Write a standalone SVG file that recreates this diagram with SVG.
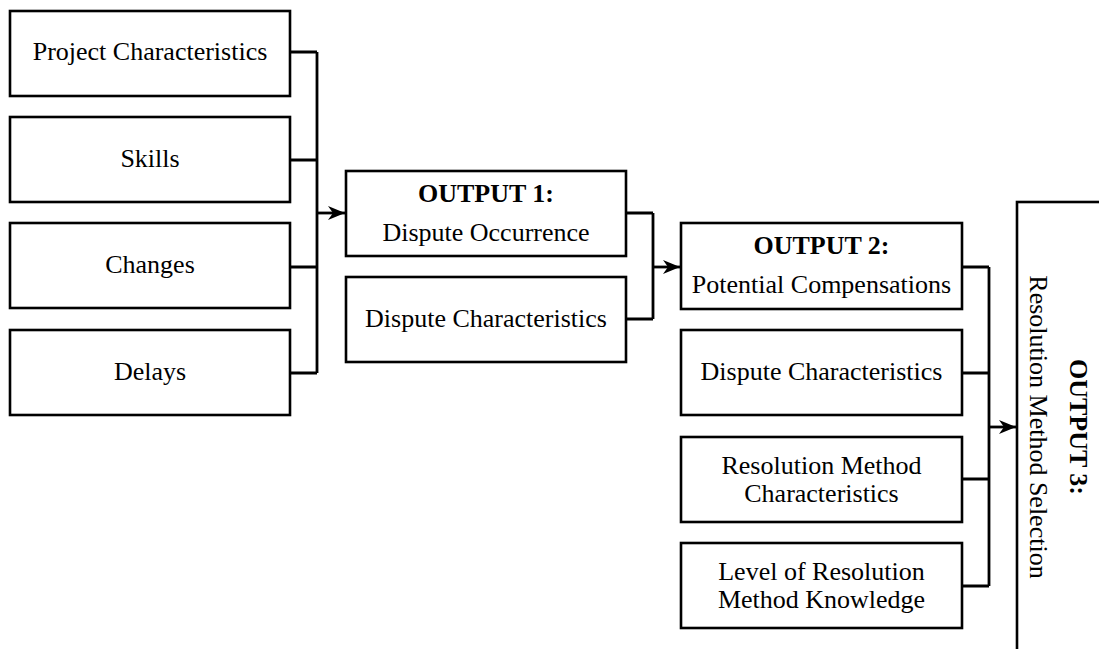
<svg xmlns="http://www.w3.org/2000/svg" width="1099" height="649" viewBox="0 0 1099 649">
  <style>
    .box { fill: #fff; stroke: #000; stroke-width: 2.6; }
    .lbl { font-family: "Liberation Serif", "Times New Roman", serif; font-size: 26px; fill: #000; text-anchor: middle; }
    .b { font-weight: bold; }
    .wire { fill: none; stroke: #000; stroke-width: 2.8; }
  </style>
  <defs>
    <marker id="arrow" markerUnits="userSpaceOnUse" markerWidth="18" markerHeight="16" refX="17" refY="8" orient="auto">
      <path d="M0,1 L17,8 L0,15 L5,8 Z" fill="#000"/>
    </marker>
  </defs>

  <rect width="1099" height="649" fill="#fff"/>

  <!-- input factors -->
  <g id="project-characteristics">
    <rect class="box" x="10" y="11" width="280" height="85"/>
    <text class="lbl" x="150" y="60">Project Characteristics</text>
  </g>
  <g id="skills">
    <rect class="box" x="10" y="117" width="280" height="85"/>
    <text class="lbl" x="150" y="167">Skills</text>
  </g>
  <g id="changes">
    <rect class="box" x="10" y="223" width="280" height="85"/>
    <text class="lbl" x="150" y="273">Changes</text>
  </g>
  <g id="delays">
    <rect class="box" x="10" y="330" width="280" height="85"/>
    <text class="lbl" x="150" y="380">Delays</text>
  </g>

  <!-- stage 1 -->
  <g id="output-1">
    <rect class="box" x="346" y="171" width="280" height="85"/>
    <text class="lbl b" x="486" y="202">OUTPUT 1:</text>
    <text class="lbl" x="486" y="241">Dispute Occurrence</text>
  </g>
  <g id="dispute-characteristics-1">
    <rect class="box" x="346" y="277" width="280" height="85"/>
    <text class="lbl" x="486" y="327">Dispute Characteristics</text>
  </g>

  <!-- stage 2 -->
  <g id="output-2">
    <rect class="box" x="681" y="223" width="281" height="86"/>
    <text class="lbl b" x="821.5" y="254">OUTPUT 2:</text>
    <text class="lbl" x="821.5" y="293">Potential Compensations</text>
  </g>
  <g id="dispute-characteristics-2">
    <rect class="box" x="681" y="330" width="281" height="85"/>
    <text class="lbl" x="821.5" y="380">Dispute Characteristics</text>
  </g>
  <g id="resolution-method-characteristics">
    <rect class="box" x="681" y="437" width="281" height="85"/>
    <text class="lbl" x="821.5" y="473.5">Resolution Method</text>
    <text class="lbl" x="821.5" y="502">Characteristics</text>
  </g>
  <g id="resolution-method-knowledge">
    <rect class="box" x="681" y="543" width="281" height="85"/>
    <text class="lbl" x="821.5" y="580">Level of Resolution</text>
    <text class="lbl" x="821.5" y="607.5">Method Knowledge</text>
  </g>

  <!-- stage 3 (box runs past the page edge) -->
  <g id="output-3">
    <rect class="box" x="1017" y="202" width="200" height="470"/>
    <g transform="translate(1050,427) rotate(90)">
      <text class="lbl b" x="0" y="-20">OUTPUT 3:</text>
      <text class="lbl" x="0" y="20">Resolution Method Selection</text>
    </g>
  </g>

  <!-- connectors -->
  <g id="connectors">
    <path class="wire" d="M290,52 H317 M290,160 H317 M290,267 H317 M290,373 H317 M317,52 V373"/>
    <path class="wire" d="M317,213 H345" marker-end="url(#arrow)"/>
    <path class="wire" d="M626,213 H653 M626,319 H653 M653,213 V319"/>
    <path class="wire" d="M653,267 H680" marker-end="url(#arrow)"/>
    <path class="wire" d="M962,267 H989 M962,373 H989 M962,479 H989 M962,586 H989 M989,267 V586"/>
    <path class="wire" d="M989,427 H1016" marker-end="url(#arrow)"/>
  </g>
</svg>
